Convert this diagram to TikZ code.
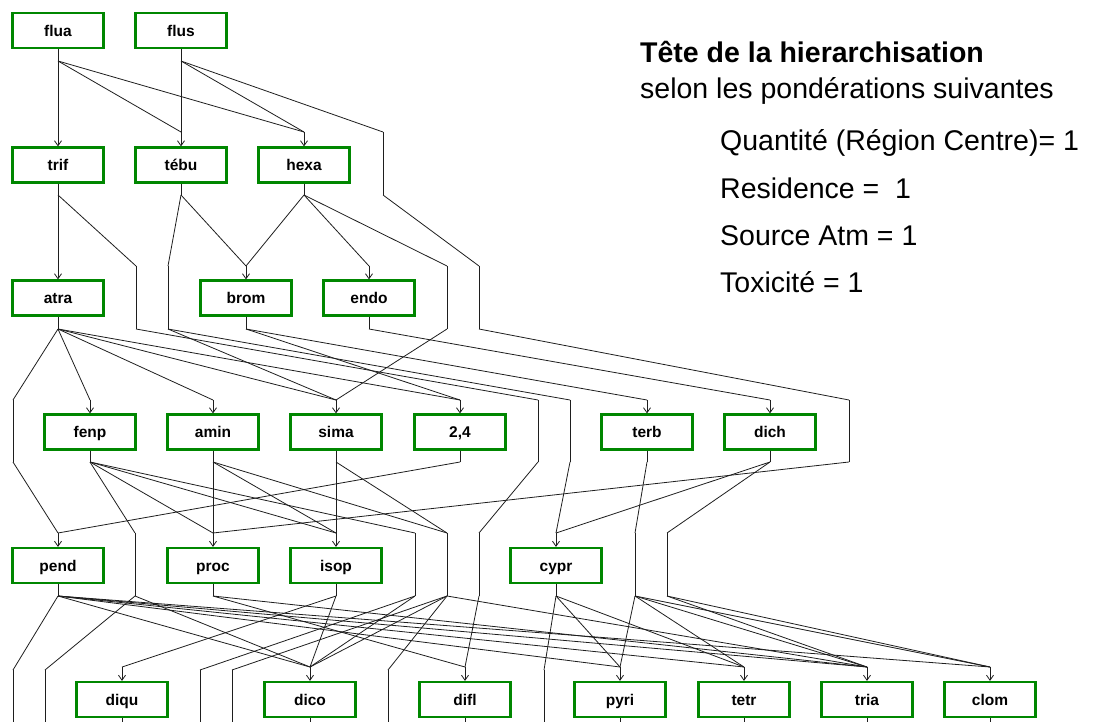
\documentclass[tikz,border=0pt]{standalone}
\usepackage{fontspec}
\setmainfont{Liberation Sans}
\usetikzlibrary{arrows.meta}
\definecolor{boxgreen}{RGB}{0,135,0}
\definecolor{edgecol}{RGB}{30,30,30}
\newcommand{\mkbox}[6]{%
  \node[box] (#1) at (#2,#3) {#4};
  \coordinate (#1b) at (#2,#5);
  \coordinate (#1s) at (#2,#6);
  \draw[edge] (#1.south) -- (#1s);
  \draw[arr] (#1b) -- (#1.north);}
\newcommand{\mktop}[4]{%
  \node[box] (#1) at (#2,#3) {#4};
  \coordinate (#1s) at (#2,61);
  \draw[edge] (#1.south) -- (#1s);}
\newcommand{\mkvirt}[4]{%
  \coordinate (#1b) at (#2,#3);
  \coordinate (#1s) at (#2,#4);
  \draw[edge] (#1b) -- (#1s);}
\newcommand{\mkseg}[2]{\draw[edge] (#1s) -- (#2b);}
\begin{document}
\begin{tikzpicture}[x=1pt,y=-1pt,
  box/.style={draw=boxgreen, line width=2.2pt, minimum width=91pt, minimum height=35pt,
    inner sep=0pt, text height=11.5pt, text depth=0pt, fill=white,
    font=\fontsize{15.5}{15.5}\selectfont\bfseries},
  edge/.style={line width=0.8pt, draw=edgecol},
  arr/.style={edge, -{Straight Barb[length=5pt,width=7pt]}},
  txt/.style={anchor=base west, inner sep=0pt, font=\fontsize{28.5}{28.5}\selectfont}]
\useasboundingbox (0,0) rectangle (1094,722);
% level 1
\mktop{flua}{58}{30.5}{flua}
\mktop{flus}{181}{30.5}{flus}
% level 2
\mkbox{trif}{58}{165}{trif}{132}{195}
\mkbox{tebu}{181}{165}{tébu}{132}{195}
\mkbox{hexa}{304}{165}{hexa}{132}{195}
\mkvirt{Va}{383}{132}{195}
% level 3
\mkbox{atra}{58}{298}{atra}{266}{329}
\mkbox{brom}{246}{298}{brom}{266}{329}
\mkbox{endo}{369}{298}{endo}{266}{329}
\mkvirt{Wa}{136}{266}{329}
\mkvirt{Wb}{168}{266}{329}
\mkvirt{Wc}{447}{266}{329}
\mkvirt{Wd}{479}{266}{329}
% level 4
\mkbox{fenp}{90}{432}{fenp}{400}{462}
\mkbox{amin}{213}{432}{amin}{400}{462}
\mkbox{sima}{336}{432}{sima}{400}{462}
\mkbox{deux}{460}{432}{2,4}{400}{462}
\mkbox{terb}{647}{432}{terb}{400}{462}
\mkbox{dich}{770}{432}{dich}{400}{462}
\mkvirt{Xa}{13}{400}{462}
\mkvirt{Xb}{538}{400}{462}
\mkvirt{Xc}{570}{400}{462}
\mkvirt{Xd}{849}{400}{462}
% level 5
\mkbox{pend}{58}{565.5}{pend}{533}{596}
\mkbox{proc}{213}{565.5}{proc}{533}{596}
\mkbox{isop}{336}{565.5}{isop}{533}{596}
\mkbox{cypr}{556}{565.5}{cypr}{533}{596}
\mkvirt{Ya}{135}{533}{596}
\mkvirt{Yb}{415}{533}{596}
\mkvirt{Yc}{447}{533}{596}
\mkvirt{Yd}{479}{533}{596}
\mkvirt{Ye}{635}{533}{596}
\mkvirt{Yf}{667}{533}{596}
% level 6
\mkbox{diqu}{122}{699.5}{diqu}{667}{722}
\mkbox{dico}{310}{699.5}{dico}{667}{722}
\mkbox{difl}{465}{699.5}{difl}{667}{722}
\mkbox{pyri}{620}{699.5}{pyri}{667}{722}
\mkbox{tetr}{744}{699.5}{tetr}{667}{722}
\mkbox{tria}{867}{699.5}{tria}{667}{722}
\mkbox{clom}{990}{699.5}{clom}{667}{722}
\mkvirt{Za}{13}{670}{722}
\mkvirt{Zb}{45}{670}{722}
\mkvirt{Zc}{200}{670}{722}
\mkvirt{Zd}{232}{670}{722}
\mkvirt{Ze}{388}{670}{722}
\mkvirt{Zf}{544}{670}{722}
% band 1
\mkseg{flua}{trif}\mkseg{flua}{tebu}\mkseg{flua}{hexa}
\mkseg{flus}{tebu}\mkseg{flus}{hexa}\mkseg{flus}{Va}
% band 2
\mkseg{trif}{atra}\mkseg{trif}{Wa}\mkseg{tebu}{Wb}\mkseg{tebu}{brom}
\mkseg{hexa}{brom}\mkseg{hexa}{endo}\mkseg{hexa}{Wc}\mkseg{Va}{Wd}
% band 3
\mkseg{atra}{Xa}\mkseg{atra}{fenp}\mkseg{atra}{amin}\mkseg{atra}{sima}\mkseg{atra}{deux}
\mkseg{Wa}{Xb}\mkseg{Wb}{sima}\mkseg{Wb}{Xc}\mkseg{brom}{deux}\mkseg{brom}{terb}
\mkseg{endo}{dich}\mkseg{Wc}{sima}\mkseg{Wd}{Xd}
% band 4
\mkseg{Xa}{pend}\mkseg{deux}{pend}
\mkseg{fenp}{Ya}\mkseg{fenp}{proc}\mkseg{fenp}{isop}\mkseg{fenp}{Yb}
\mkseg{amin}{proc}\mkseg{amin}{isop}\mkseg{amin}{Yc}
\mkseg{sima}{isop}\mkseg{sima}{Yc}
\mkseg{Xb}{Yd}\mkseg{Xc}{cypr}\mkseg{terb}{Ye}
\mkseg{dich}{cypr}\mkseg{dich}{Yf}\mkseg{Xd}{proc}
% band 5
\mkseg{pend}{Za}\mkseg{pend}{dico}\mkseg{pend}{pyri}\mkseg{pend}{tetr}\mkseg{pend}{tria}\mkseg{pend}{clom}
\mkseg{Ya}{Zb}\mkseg{Ya}{dico}
\mkseg{proc}{difl}\mkseg{proc}{tria}
\mkseg{isop}{diqu}\mkseg{isop}{dico}
\mkseg{Yb}{Zc}\mkseg{Yb}{dico}
\mkseg{Yc}{Zd}\mkseg{Yc}{dico}\mkseg{Yc}{Ze}\mkseg{Yc}{tria}
\mkseg{Yd}{difl}
\mkseg{cypr}{Zf}\mkseg{cypr}{pyri}\mkseg{cypr}{tetr}
\mkseg{Ye}{pyri}\mkseg{Ye}{tetr}\mkseg{Ye}{tria}\mkseg{Ye}{clom}
\mkseg{Yf}{clom}\mkseg{Yf}{tria}
% legend
\node[txt, font=\fontsize{28.5}{28.5}\selectfont\bfseries] (t0) at (640,63) {Tête de la hierarchisation};
\node[txt] (t1) at (640,99) {selon les pondérations suivantes};
\node[txt] (t2) at (720,151) {Quantité (Région Centre)= 1};
\node[txt] (t3) at (720,198) {Residence =\ \ 1};
\node[txt] (t4) at (720,245) {Source Atm = 1};
\node[txt] (t5) at (720,292) {Toxicité = 1};
\end{tikzpicture}
\end{document}
